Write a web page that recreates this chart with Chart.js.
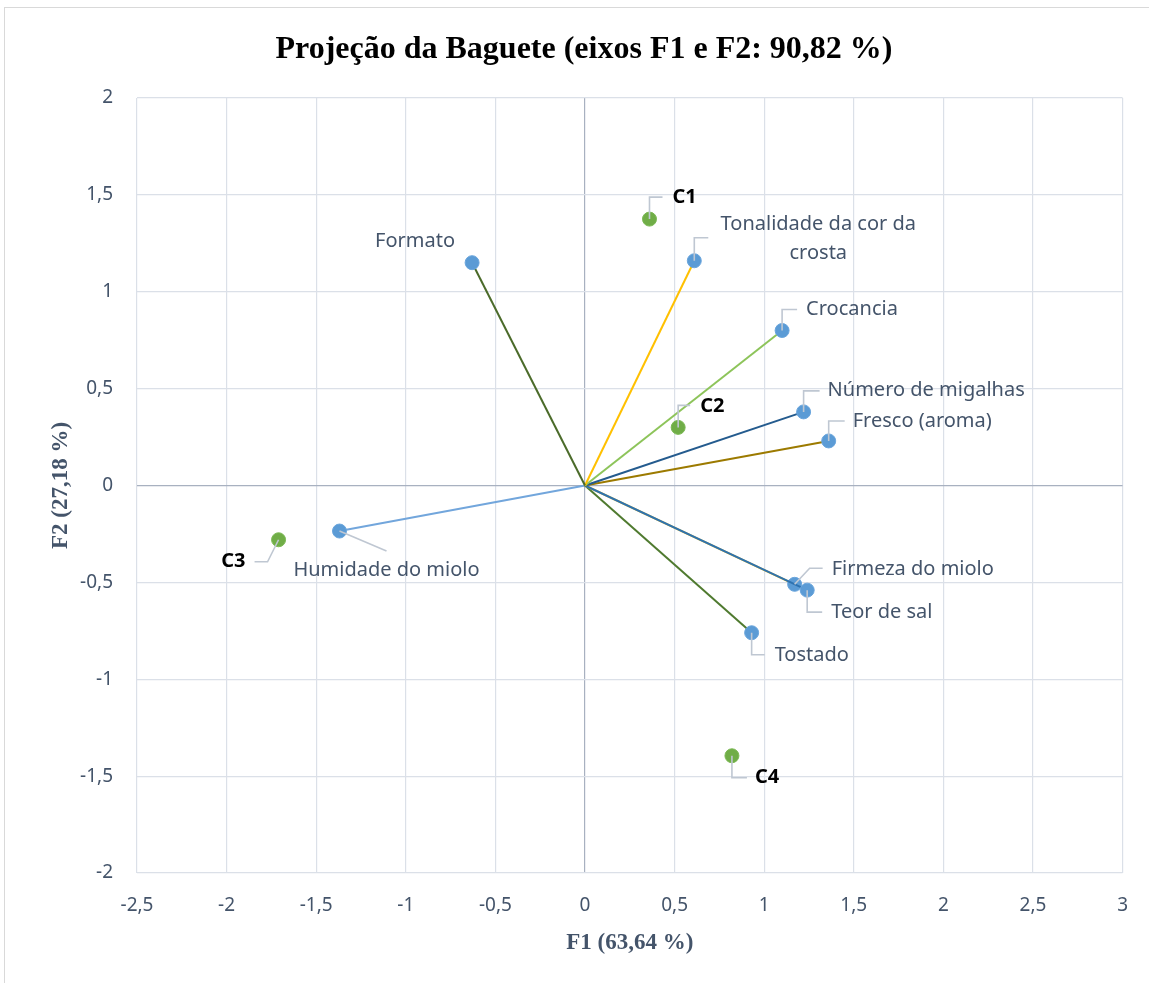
<!DOCTYPE html>
<html>
<head>
<meta charset="utf-8">
<script src="https://cdn.jsdelivr.net/npm/chart.js@4.4.1/dist/chart.umd.min.js"></script>
<style>
  html, body { margin: 0; padding: 0; background: #fff; }
  #wrap { position: relative; width: 1149px; height: 983px; }
</style>
</head>
<body>
<div id="wrap"><canvas id="c" width="1149" height="983"></canvas></div>
<script>
// Variables (loadings on F1 / F2)
const variables = ['Formato', 'Tonalidade da cor da crosta', 'Crocancia', 'Número de migalhas',
  'Fresco (aroma)', 'Teor de sal', 'Firmeza do miolo', 'Tostado', 'Humidade do miolo'];
const varF1 = [-0.63, 0.61, 1.10, 1.22, 1.36, 1.24, 1.17, 0.93, -1.37];
const varF2 = [1.15, 1.16, 0.80, 0.38, 0.23, -0.54, -0.51, -0.76, -0.235];

// Observations (scores on F1 / F2)
const observations = ['C1', 'C2', 'C3', 'C4'];
const obsF1 = [0.36, 0.52, -1.71, 0.82];
const obsF2 = [1.375, 0.30, -0.28, -1.395];

// Axis tick values
const xTicks = [-2.5, -2, -1.5, -1, -0.5, 0, 0.5, 1, 1.5, 2, 2.5, 3];
const yTicks = [-2, -1.5, -1, -0.5, 0, 0.5, 1, 1.5, 2];

// Vector colours, one per variable
const vecColors = ['#4b6b2a', '#ffc000', '#8dc45a', '#245b8e', '#9c7a00', '#2e72b0', '#ffc000', '#4f7a2f', '#72a6dc'];

// Label placement: leader path and text anchor, in pixels relative to the marker
const varLabelPlace = [
  { leader: null, text: [-17, -21], align: 'right' },
  { leader: [[0, 0], [0, -23], [14, -23]], text: [124, -36], align: 'center', lines: ['Tonalidade da cor da', 'crosta'], lh: 29 },
  { leader: [[0, 0], [0, -21], [15, -21]], text: [24, -21], align: 'left' },
  { leader: [[0, 0], [0, -21], [16, -21]], text: [24, -22], align: 'left' },
  { leader: [[0, 0], [0, -20], [16, -20]], text: [24, -20], align: 'left' },
  { leader: [[0, 0], [0, 22], [15, 22]], text: [24, 22], align: 'left' },
  { leader: [[0, 0], [15, -16], [28, -16]], text: [37, -15], align: 'left' },
  { leader: [[0, 0], [0, 22], [13, 22]], text: [23, 23], align: 'left' },
  { leader: [[0, 0], [47, 20]], text: [47, 39], align: 'center' }
];
const obsLabelPlace = [
  { leader: [[0, 0], [0, -22], [13, -22]], text: [23, -22], align: 'left' },
  { leader: [[0, 0], [0, -22], [12, -22]], text: [22, -21], align: 'left' },
  { leader: [[0, 0], [-11, 22], [-24, 22]], text: [-33, 22], align: 'right' },
  { leader: [[0, 0], [0, 22], [15, 22]], text: [23, 22], align: 'left' }
];

const fmt = v => String(v).replace('.', ',');
const textColor = '#44546a';
const labelFont = '20px "Noto Sans", "Open Sans", sans-serif';
const obsFont = 'bold 20px "Noto Sans", "Open Sans", sans-serif';

const datasets = variables.map((name, i) => ({
  label: name,
  data: [{ x: 0, y: 0 }, { x: varF1[i], y: varF2[i] }],
  showLine: true,
  borderColor: vecColors[i],
  borderWidth: 2,
  pointRadius: [0, 7],
  pointHoverRadius: [0, 7],
  pointBackgroundColor: '#5b9bd5',
  pointBorderColor: '#6aa5dc',
  pointBorderWidth: 1
}));
datasets.push({
  label: 'Observações',
  data: observations.map((o, i) => ({ x: obsF1[i], y: obsF2[i] })),
  showLine: false,
  pointRadius: 7,
  pointBackgroundColor: '#70ad47',
  pointBorderColor: '#7cb955',
  pointBorderWidth: 1
});

// Chart frame, leader lines and data labels
const decorations = {
  id: 'decorations',
  beforeDraw(chart) {
    const ctx = chart.ctx;
    ctx.save();
    ctx.strokeStyle = '#d9d9d9';
    ctx.lineWidth = 1;
    ctx.strokeRect(4.5, 7.5, 1170, 1000);
    ctx.restore();
  },
  afterDatasetsDraw(chart) {
    const ctx = chart.ctx;
    const xs = chart.scales.x, ys = chart.scales.y;
    const drawLabel = (px, py, place, lines, font, color) => {
      ctx.save();
      if (place.leader) {
        ctx.strokeStyle = '#bfc7d2';
        ctx.lineWidth = 1.6;
        ctx.beginPath();
        place.leader.forEach((p, k) => {
          const lx = px + p[0], ly = py + p[1];
          if (k === 0) ctx.moveTo(lx, ly); else ctx.lineTo(lx, ly);
        });
        ctx.stroke();
      }
      ctx.font = font;
      ctx.fillStyle = color;
      ctx.textAlign = place.align;
      ctx.textBaseline = 'middle';
      lines.forEach((t, k) => {
        ctx.fillText(t, px + place.text[0], py + place.text[1] + k * (place.lh || 0));
      });
      ctx.restore();
    };
    variables.forEach((name, i) => {
      const place = varLabelPlace[i];
      drawLabel(xs.getPixelForValue(varF1[i]), ys.getPixelForValue(varF2[i]), place,
        place.lines || [name], labelFont, textColor);
    });
    observations.forEach((name, i) => {
      drawLabel(xs.getPixelForValue(obsF1[i]), ys.getPixelForValue(obsF2[i]), obsLabelPlace[i],
        [name], obsFont, '#000');
    });
  }
};

const gridColor = ctx => (ctx.tick && ctx.tick.value === 0) ? '#a8b1c0' : '#dbe0e8';
const tickFont = { family: '"Noto Sans", "Open Sans", sans-serif', size: 19 };
const axisTitleFont = { family: '"Liberation Serif", "Times New Roman", serif', size: 23, weight: 'bold' };

new Chart(document.getElementById('c'), {
  type: 'scatter',
  data: { datasets },
  options: {
    responsive: false,
    animation: false,
    devicePixelRatio: 1,
    layout: { padding: { left: 45, right: 26, top: 31, bottom: 26 } },
    plugins: {
      legend: { display: false },
      tooltip: { enabled: false },
      title: {
        display: true,
        text: 'Projeção da Baguete (eixos F1 e F2: 90,82 %)',
        color: '#000',
        font: { family: '"Liberation Serif", "Times New Roman", serif', size: 32, weight: 'bold', lineHeight: 1.2 },
        padding: { top: 0, bottom: 28.6 }
      }
    },
    scales: {
      x: {
        type: 'linear',
        min: -2.5, max: 3,
        afterBuildTicks: s => { s.ticks = xTicks.map(v => ({ value: v })); },
        afterFit: s => { s.height = 84; },
        grid: { color: gridColor, lineWidth: 1.2, drawTicks: false },
        border: { display: false },
        ticks: {
          padding: 21,
          color: textColor,
          font: tickFont,
          callback: v => fmt(v)
        },
        title: {
          display: true,
          text: 'F1 (63,64 %)',
          color: textColor,
          font: axisTitleFont,
          padding: { top: 8, bottom: 0 }
        }
      },
      y: {
        type: 'linear',
        min: -2, max: 2,
        afterBuildTicks: s => { s.ticks = yTicks.map(v => ({ value: v })); },
        afterFit: s => { s.width = 92; },
        grid: { color: gridColor, lineWidth: 1.2, drawTicks: false },
        border: { display: false },
        ticks: {
          padding: 24,
          color: textColor,
          font: tickFont,
          callback: v => fmt(v)
        },
        title: {
          display: true,
          text: 'F2 (27,18 %)',
          color: textColor,
          font: axisTitleFont,
          padding: { top: 2, bottom: 0 }
        }
      }
    }
  },
  plugins: [decorations]
});
</script>
</body>
</html>
